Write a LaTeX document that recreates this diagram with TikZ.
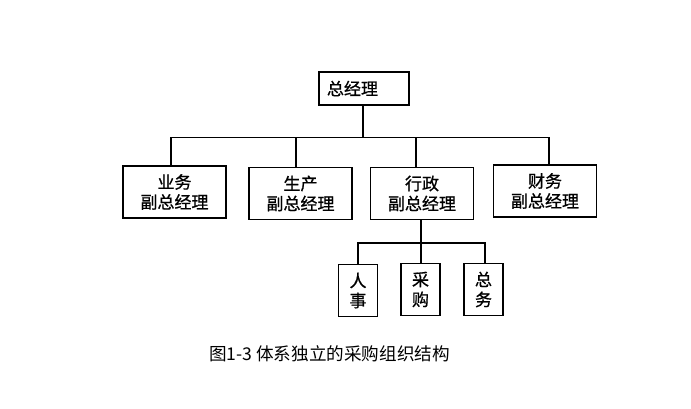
\documentclass[tikz,border=0pt]{standalone}
\usepackage{fontspec}
\newfontfamily\cjk{Noto Sans CJK SC}
\newfontfamily\cjkb[FakeBold=0.8]{Noto Sans CJK SC}
\begin{document}
\begin{tikzpicture}[x=1pt,y=-1pt,
  box/.style={draw, line width=1.3pt, inner sep=0pt, font=\cjkb\fontsize{17}{20}\selectfont, align=center},
  bigbox/.style={box, minimum width=103pt, minimum height=52pt},
  smallbox/.style={box, minimum width=39pt, minimum height=52pt},
  conn/.style={line width=1.2pt}]
\useasboundingbox[fill=white] (0,0) rectangle (691,409);
% top
\node[box, minimum width=90pt, minimum height=33pt, align=left, text width=74pt] (gm) at (364,88.5) {总经理};
% level 2
\node[bigbox] (yw) at (174.5,192) {业务\\副总经理};
\node[bigbox] (sc) at (300.5,193.5) {生产\\副总经理};
\node[bigbox] (xz) at (422,193.5) {行政\\副总经理};
\node[bigbox] (cw) at (545,191) {财务\\副总经理};
% level 3
\node[smallbox] (rs) at (358,290.5) {人\\事};
\node[smallbox] (cg) at (420.5,289.5) {采\\购};
\node[smallbox] (zw) at (483.5,289.5) {总\\务};
% caption
\node[font=\cjk\fontsize{17.6}{20}\selectfont, anchor=west, inner sep=0pt] (cap) at (209,354) {图1-3 体系独立的采购组织结构};
% connectors level 1-2
\coordinate (bm) at (363,137.5);
\coordinate (bl) at (171,137.5);
\coordinate (b2) at (296,137.5);
\coordinate (b3) at (416,137.5);
\coordinate (br) at (549,137.5);
\draw[conn] (gm.south -| bm) -- (bm);
\draw[conn] (bl |- yw.north) -- (bl) -- (br) -- (br |- cw.north);
\draw[conn] (b2) -- (b2 |- sc.north);
\draw[conn] (b3) -- (b3 |- xz.north);
% connectors level 2-3
\coordinate (s) at (421,243);
\coordinate (sl) at (358,243);
\coordinate (sr) at (485,243);
\draw[conn] (xz.south -| s) -- (s);
\draw[conn] (sl |- rs.north) -- (sl) -- (sr) -- (sr |- zw.north);
\draw[conn] (s) -- (s |- cg.north);
\end{tikzpicture}
\end{document}
